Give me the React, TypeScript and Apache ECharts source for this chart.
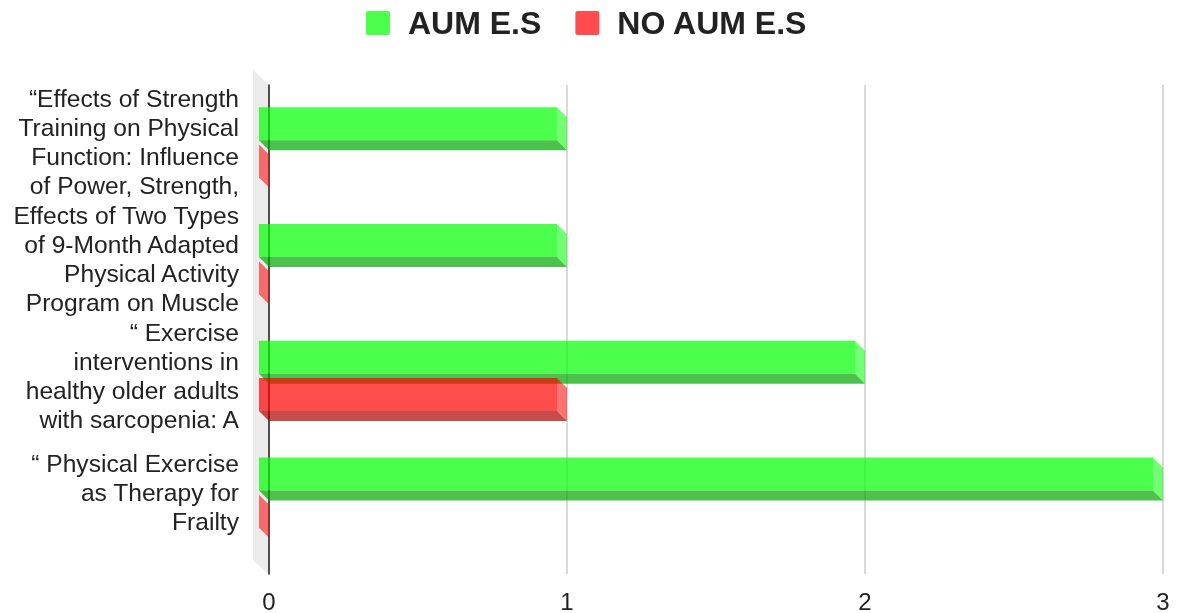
import React, { useEffect, useRef } from "react";
import * as echarts from "echarts";

const categories = [
  "“Effects of Strength\nTraining on Physical\nFunction: Influence\nof Power, Strength,",
  "Effects of Two Types\nof 9-Month Adapted\nPhysical Activity\nProgram on Muscle",
  "“ Exercise\ninterventions in\nhealthy older adults\nwith sarcopenia: A",
  "“ Physical Exercise\nas Therapy for\nFrailty",
];
const seriesNames = ["AUM E.S", "NO AUM E.S"];
const aumValues = [1, 1, 2, 3];
const noAumValues = [0, 0, 1, 0];
const xTicks = [0, 1, 2, 3];

const FONT = '"Liberation Sans", Arial, sans-serif';
const DEPTH = 10;
const BAR_FRAC = 33 / 116.67;
const GAP_FRAC = 2 / 116.67;
const LEGEND_ICON =
  "path://M2,0 H22 A2,2 0 0 1 24,2 V22 A2,2 0 0 1 22,24 H2 A2,2 0 0 1 0,22 V2 A2,2 0 0 1 2,0 Z";

const faces = [
  { front: "rgba(0,255,0,0.7)", bottom: "rgba(0,168,0,0.7)", side: "rgba(0,255,0,0.55)", legend: "#4dff4d" },
  { front: "rgba(255,0,0,0.7)", bottom: "rgba(174,0,0,0.7)", side: "rgba(255,0,0,0.55)", legend: "#ff4d4d" },
];

function makeRenderItem(idx: number) {
  return (params: any, api: any) => {
    const cat = api.value(0);
    const val = api.value(1);
    const [xv, yc] = api.coord([val, cat]);
    const [x0] = api.coord([0, cat]);
    const band = api.size([0, 1])[1];
    const h = band * BAR_FRAC;
    const g = band * GAP_FRAC;
    const top = idx === 0 ? yc - g - h : yc + g;
    const bot = top + h;
    const fl = x0 - DEPTH;
    const fr = xv - DEPTH;
    const c = faces[idx];
    const children: any[] = [];
    if (fr > fl) {
      children.push({
        type: "polygon",
        shape: { points: [[fl, top], [fr, top], [fr, bot], [fl, bot]] },
        style: { fill: c.front },
      });
      children.push({
        type: "polygon",
        shape: { points: [[fl, bot], [fr, bot], [xv, bot + DEPTH], [x0, bot + DEPTH]] },
        style: { fill: c.bottom },
      });
    }
    children.push({
      type: "polygon",
      shape: { points: [[fr, top], [xv, top + DEPTH], [xv, bot + DEPTH], [fr, bot]] },
      style: { fill: c.side },
    });
    return { type: "group", children };
  };
}

export default function App() {
  const ref = useRef<HTMLDivElement>(null);
  useEffect(() => {
    if (!ref.current) return;
    const chart = echarts.init(ref.current, undefined, { renderer: "svg" });
    const toData = (vals: number[]) => vals.map((v, i) => [i, v]);
    chart.setOption({
      animation: false,
      textStyle: { fontFamily: FONT },
      legend: {
        left: 366,
        top: 7,
        padding: 0,
        itemWidth: 24,
        itemHeight: 24,
        itemGap: 34,
        icon: LEGEND_ICON,
        data: seriesNames,
        textStyle: { fontSize: 32, fontWeight: "bold", color: "#222", fontFamily: FONT, padding: [0, 0, 0, 13] },
      },
      grid: [
        { left: 269, right: 14, top: 84, bottom: 62 },
        { left: 269, right: 14, top: 85, bottom: 38 },
      ],
      xAxis: [
        { type: "value", gridIndex: 0, min: 0, max: 3, show: false },
        {
          type: "value",
          gridIndex: 1,
          min: xTicks[0],
          max: xTicks[xTicks.length - 1],
          interval: 1,
          axisLine: { show: false },
          axisTick: { show: false },
          splitLine: { show: true, lineStyle: { color: "#cccccc", width: 1.5 } },
          axisLabel: { fontSize: 24, color: "#222", margin: 15, fontFamily: FONT },
        },
      ],
      yAxis: [
        {
          type: "category",
          gridIndex: 0,
          inverse: true,
          data: categories,
          axisLine: { show: false },
          axisTick: { show: false },
          splitLine: { show: false },
          axisLabel: { fontSize: 24.6, lineHeight: 29, color: "#222", margin: 30, align: "right", fontFamily: FONT },
        },
        {
          type: "value",
          gridIndex: 1,
          min: 0,
          max: 1,
          axisLine: { show: true, onZero: false, lineStyle: { color: "#222", width: 1.5 } },
          axisTick: { show: false },
          axisLabel: { show: false },
          splitLine: { show: false },
        },
      ],
      graphic: [
        {
          type: "polygon",
          z: -10,
          shape: { points: [[253, 70], [269, 85], [269, 575], [253, 560]] },
          style: { fill: "#ebebeb" },
        },
      ],
      series: [
        {
          type: "custom",
          name: seriesNames[0],
          xAxisIndex: 0,
          yAxisIndex: 0,
          itemStyle: { color: faces[0].legend },
          encode: { x: 1, y: 0 },
          renderItem: makeRenderItem(0),
          data: toData(aumValues),
          z: 5,
        },
        {
          type: "custom",
          name: seriesNames[1],
          xAxisIndex: 0,
          yAxisIndex: 0,
          itemStyle: { color: faces[1].legend },
          encode: { x: 1, y: 0 },
          renderItem: makeRenderItem(1),
          data: toData(noAumValues),
          z: 6,
        },
      ],
    });
    return () => chart.dispose();
  }, []);
  return <div ref={ref} style={{ position: "fixed", left: 0, top: 0, width: 1177, height: 613 }} />;
}
